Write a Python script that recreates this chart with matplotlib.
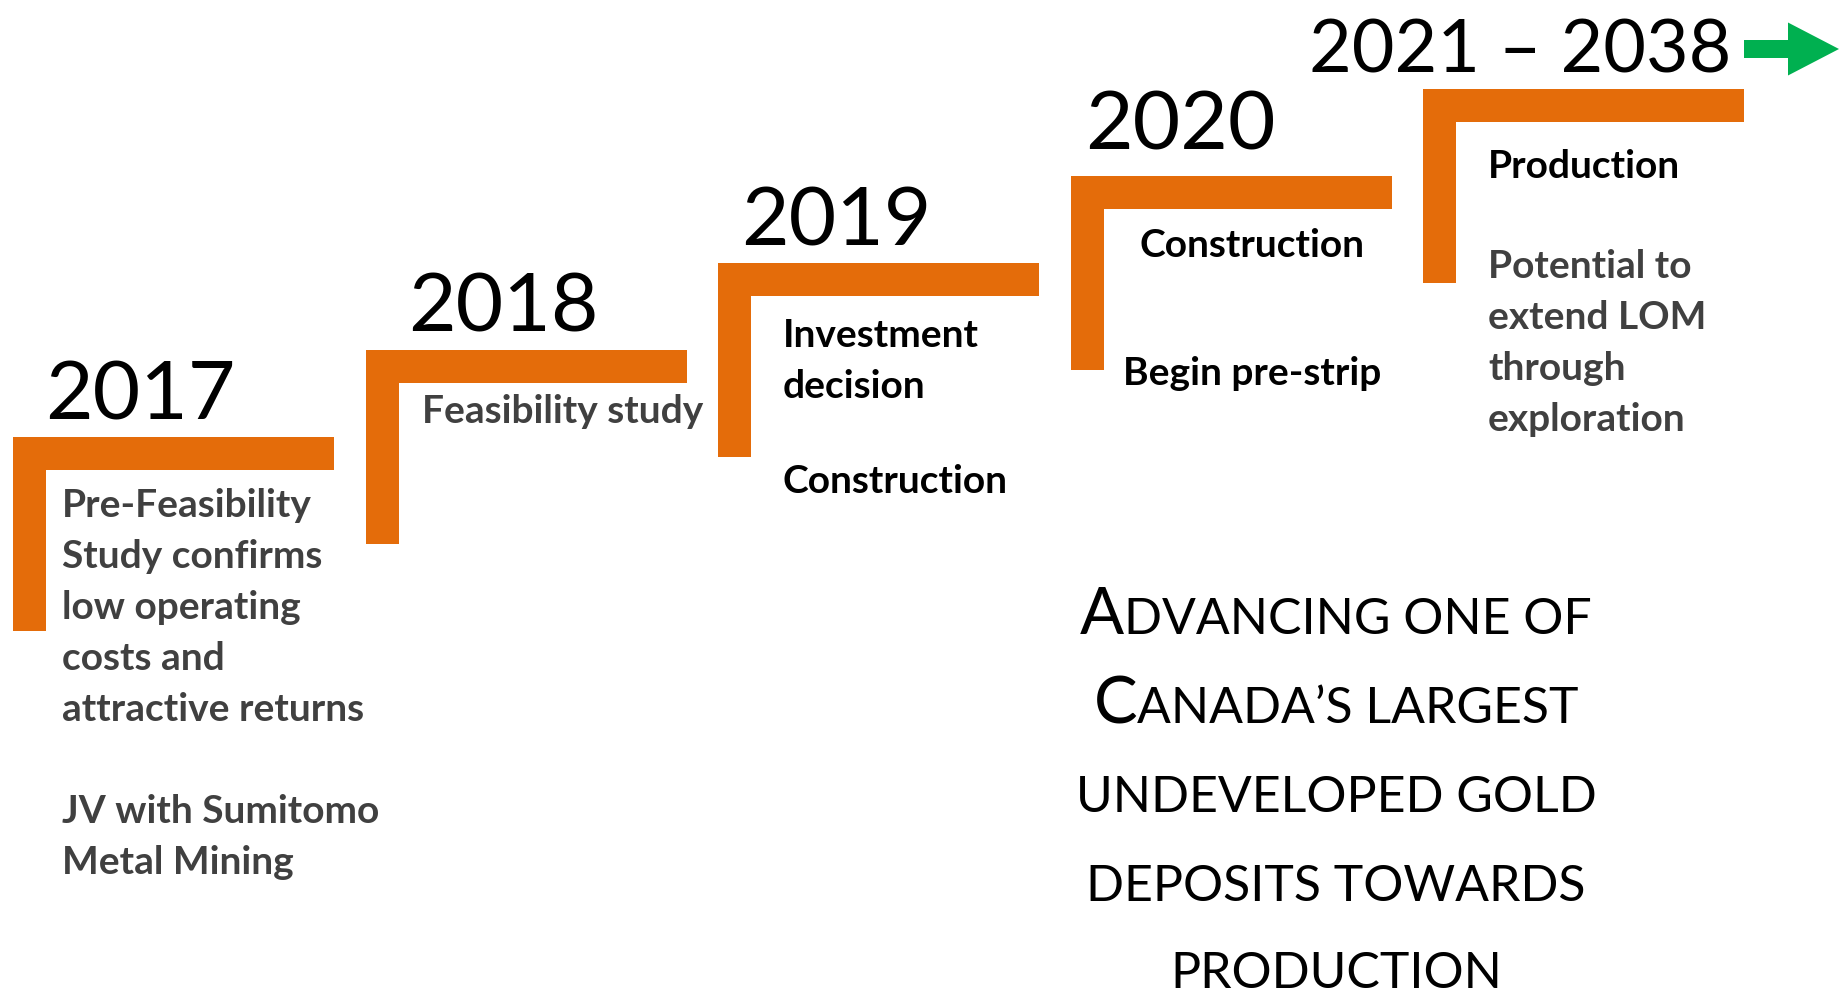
import matplotlib.pyplot as plt
from matplotlib.patches import FancyArrow

# timeline content
years = ["2017", "2018", "2019", "2020", "2021 – 2038"]
notes = [
    ["Pre-Feasibility", "Study confirms", "low operating", "costs and",
     "attractive returns", "", "JV with Sumitomo", "Metal Mining"],
    ["Feasibility study"],
    ["Investment", "decision"],
    ["Construction"],
    ["Production"],
]
notes2 = [
    [],
    [],
    ["Construction"],
    ["Begin pre-strip"],
    ["Potential to", "extend LOM", "through", "exploration"],
]
headline = ["Advancing one of", "Canada’s largest", "undeveloped gold",
            "deposits towards", "production"]

# layout (pixels of the 1849x998 canvas)
W, H = 1849, 998
step_left0, step_dx = 13, 352.5
step_top0, step_dy = 437, 87
bar_w, bar_th, bar_len = 321, 33, 194
year_x = [45, 408, 741, 1085, 1309]
year_base = [419, 331, 245, 149, 72]
year_fs = [59, 59, 59, 59, 53]
note_x = [62, 422, 783, 1252, 1488]
note_ha = ["left", "left", "left", "center", "left"]
note_y = [517, 423, 347, 257, 178]
note2_y = [None, None, 493, 385, 278]
note_col = ["#404040", "#404040", "black", "black", "black"]
note2_col = [None, None, "black", "black", "#404040"]
line_h = 51
note_fs = 28

ORANGE = "#E46C0A"
GREEN = "#00B050"
FONT = "Lato"

fig = plt.figure(figsize=(W / 100, H / 100), dpi=100)
ax = fig.add_axes([0, 0, 1, 1])
ax.set_xlim(0, W)
ax.set_ylim(H, 0)
ax.axis("off")

for i, yr in enumerate(years):
    left = step_left0 + i * step_dx
    top = step_top0 - i * step_dy
    # the L-shaped step: horizontal + vertical piece
    ax.barh(top + bar_th / 2, bar_w, height=bar_th, left=left, color=ORANGE, lw=0)
    ax.bar(left + bar_th / 2, bar_len, width=bar_th, bottom=top, color=ORANGE, lw=0)
    ax.text(year_x[i], year_base[i], yr, fontsize=year_fs[i], family=FONT,
            color="black", va="baseline", ha="left")
    for j, s in enumerate(notes[i]):
        ax.text(note_x[i], note_y[i] + j * line_h, s, fontsize=note_fs, family=FONT,
                fontweight="bold", color=note_col[i], va="baseline", ha=note_ha[i])
    for j, s in enumerate(notes2[i]):
        ax.text(note_x[i], note2_y[i] + j * line_h, s, fontsize=note_fs, family=FONT,
                fontweight="bold", color=note2_col[i], va="baseline", ha=note_ha[i])

# green arrow off the last step
last_right = step_left0 + 4 * step_dx + bar_w
ax.add_patch(FancyArrow(last_right, 49, 1839 - last_right, 0, width=18,
                        head_width=53, head_length=51, length_includes_head=True,
                        color=GREEN, lw=0))

# small caps headline
renderer = fig.canvas.get_renderer()
big, small = 47, 36
cx = 1336
base_y = [634, 723, 812, 901, 988]
for line, by in zip(headline, base_y):
    runs = []
    for ch in line:
        size = big if ch.isupper() else small
        if runs and runs[-1][1] == size:
            runs[-1][0] += ch.upper()
        else:
            runs.append([ch.upper(), size])
    texts = [ax.text(0, by, s, fontsize=sz, family=FONT, color="black",
                     va="baseline", ha="left") for s, sz in runs]
    widths = [t.get_window_extent(renderer).width for t in texts]
    x = cx - sum(widths) / 2
    for t, w in zip(texts, widths):
        t.set_x(x)
        x += w

fig.savefig("out.png", dpi=100, facecolor="white")
